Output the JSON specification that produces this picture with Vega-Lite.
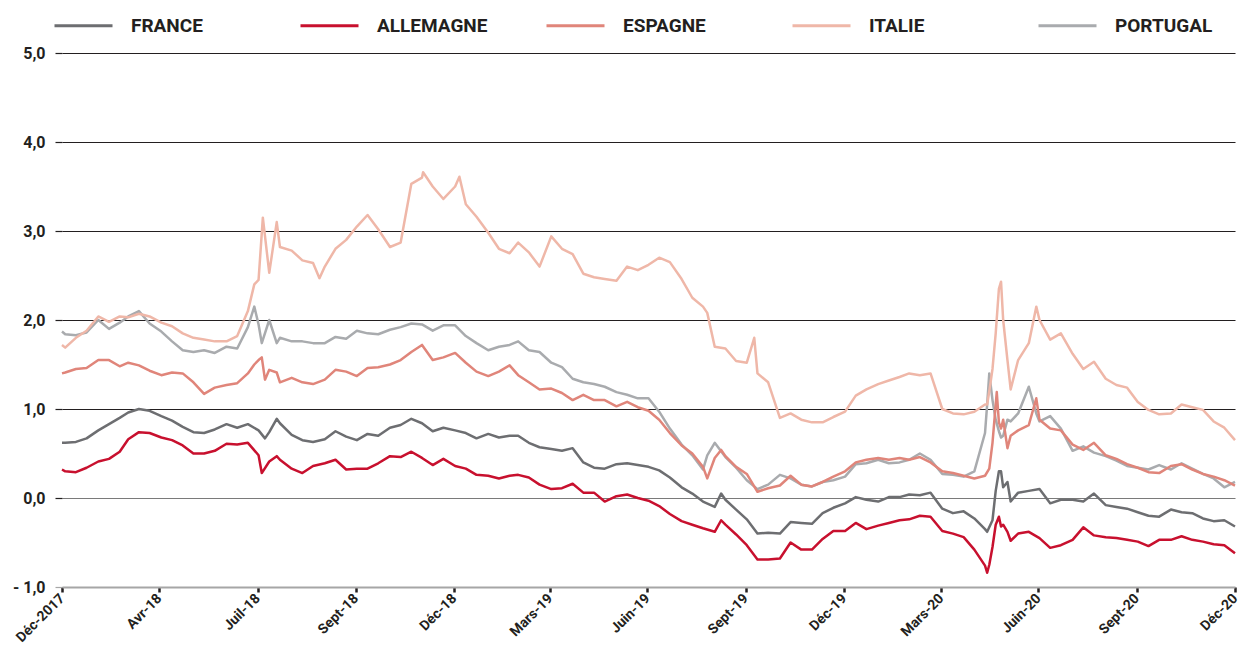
{
"$schema": "https://vega.github.io/schema/vega-lite/v6.json",
"width": 1173, "height": 534,
"autosize": {"type": "none"},
"padding": {"left": 62, "top": 53, "right": 7, "bottom": 58},
"background": "white",
"config": {"view": {"stroke": null}, "font": "'Liberation Sans Narrow', 'Arial Narrow', Roboto, sans-serif"},
"data": {"values": [
{"c":"PORTUGAL","d":"2017-12-29","v":1.87},{"c":"PORTUGAL","d":"2018-01-01","v":1.84},{"c":"PORTUGAL","d":"2018-01-11","v":1.83},{"c":"PORTUGAL","d":"2018-01-21","v":1.86},{"c":"PORTUGAL","d":"2018-02-01","v":2.00},{"c":"PORTUGAL","d":"2018-02-11","v":1.90},{"c":"PORTUGAL","d":"2018-02-21","v":1.97},{"c":"PORTUGAL","d":"2018-03-01","v":2.04},{"c":"PORTUGAL","d":"2018-03-11","v":2.10},{"c":"PORTUGAL","d":"2018-03-21","v":1.96},{"c":"PORTUGAL","d":"2018-04-01","v":1.87},{"c":"PORTUGAL","d":"2018-04-11","v":1.76},{"c":"PORTUGAL","d":"2018-04-21","v":1.66},{"c":"PORTUGAL","d":"2018-05-01","v":1.64},{"c":"PORTUGAL","d":"2018-05-11","v":1.66},{"c":"PORTUGAL","d":"2018-05-21","v":1.63},{"c":"PORTUGAL","d":"2018-06-01","v":1.70},{"c":"PORTUGAL","d":"2018-06-11","v":1.68},{"c":"PORTUGAL","d":"2018-06-21","v":1.92},{"c":"PORTUGAL","d":"2018-06-27","v":2.15},{"c":"PORTUGAL","d":"2018-07-01","v":1.95},{"c":"PORTUGAL","d":"2018-07-04","v":1.74},{"c":"PORTUGAL","d":"2018-07-11","v":2.00},{"c":"PORTUGAL","d":"2018-07-18","v":1.74},{"c":"PORTUGAL","d":"2018-07-21","v":1.80},{"c":"PORTUGAL","d":"2018-08-01","v":1.76},{"c":"PORTUGAL","d":"2018-08-11","v":1.76},{"c":"PORTUGAL","d":"2018-08-21","v":1.74},{"c":"PORTUGAL","d":"2018-09-01","v":1.74},{"c":"PORTUGAL","d":"2018-09-11","v":1.81},{"c":"PORTUGAL","d":"2018-09-21","v":1.79},{"c":"PORTUGAL","d":"2018-10-01","v":1.88},{"c":"PORTUGAL","d":"2018-10-11","v":1.85},{"c":"PORTUGAL","d":"2018-10-21","v":1.84},{"c":"PORTUGAL","d":"2018-11-01","v":1.89},{"c":"PORTUGAL","d":"2018-11-11","v":1.92},{"c":"PORTUGAL","d":"2018-11-21","v":1.96},{"c":"PORTUGAL","d":"2018-12-01","v":1.95},{"c":"PORTUGAL","d":"2018-12-11","v":1.88},{"c":"PORTUGAL","d":"2018-12-21","v":1.94},{"c":"PORTUGAL","d":"2019-01-01","v":1.94},{"c":"PORTUGAL","d":"2019-01-11","v":1.82},{"c":"PORTUGAL","d":"2019-01-21","v":1.74},{"c":"PORTUGAL","d":"2019-02-01","v":1.66},{"c":"PORTUGAL","d":"2019-02-11","v":1.70},{"c":"PORTUGAL","d":"2019-02-21","v":1.72},{"c":"PORTUGAL","d":"2019-03-01","v":1.76},{"c":"PORTUGAL","d":"2019-03-11","v":1.66},{"c":"PORTUGAL","d":"2019-03-21","v":1.64},{"c":"PORTUGAL","d":"2019-04-01","v":1.52},{"c":"PORTUGAL","d":"2019-04-11","v":1.47},{"c":"PORTUGAL","d":"2019-04-21","v":1.34},{"c":"PORTUGAL","d":"2019-05-01","v":1.30},{"c":"PORTUGAL","d":"2019-05-11","v":1.28},{"c":"PORTUGAL","d":"2019-05-21","v":1.25},{"c":"PORTUGAL","d":"2019-06-01","v":1.19},{"c":"PORTUGAL","d":"2019-06-11","v":1.16},{"c":"PORTUGAL","d":"2019-06-21","v":1.12},{"c":"PORTUGAL","d":"2019-07-01","v":1.12},{"c":"PORTUGAL","d":"2019-07-11","v":0.97},{"c":"PORTUGAL","d":"2019-07-21","v":0.78},{"c":"PORTUGAL","d":"2019-08-01","v":0.60},{"c":"PORTUGAL","d":"2019-08-11","v":0.48},{"c":"PORTUGAL","d":"2019-08-21","v":0.32},{"c":"PORTUGAL","d":"2019-08-25","v":0.48},{"c":"PORTUGAL","d":"2019-09-01","v":0.62},{"c":"PORTUGAL","d":"2019-09-11","v":0.46},{"c":"PORTUGAL","d":"2019-09-21","v":0.34},{"c":"PORTUGAL","d":"2019-10-01","v":0.20},{"c":"PORTUGAL","d":"2019-10-11","v":0.10},{"c":"PORTUGAL","d":"2019-10-21","v":0.15},{"c":"PORTUGAL","d":"2019-11-01","v":0.26},{"c":"PORTUGAL","d":"2019-11-11","v":0.22},{"c":"PORTUGAL","d":"2019-11-21","v":0.15},{"c":"PORTUGAL","d":"2019-12-01","v":0.13},{"c":"PORTUGAL","d":"2019-12-11","v":0.18},{"c":"PORTUGAL","d":"2019-12-21","v":0.20},{"c":"PORTUGAL","d":"2020-01-01","v":0.24},{"c":"PORTUGAL","d":"2020-01-11","v":0.38},{"c":"PORTUGAL","d":"2020-01-21","v":0.39},{"c":"PORTUGAL","d":"2020-02-01","v":0.43},{"c":"PORTUGAL","d":"2020-02-11","v":0.39},{"c":"PORTUGAL","d":"2020-02-21","v":0.40},{"c":"PORTUGAL","d":"2020-03-01","v":0.43},{"c":"PORTUGAL","d":"2020-03-11","v":0.50},{"c":"PORTUGAL","d":"2020-03-21","v":0.43},{"c":"PORTUGAL","d":"2020-04-01","v":0.27},{"c":"PORTUGAL","d":"2020-04-11","v":0.26},{"c":"PORTUGAL","d":"2020-04-21","v":0.24},{"c":"PORTUGAL","d":"2020-05-01","v":0.30},{"c":"PORTUGAL","d":"2020-05-11","v":0.73},{"c":"PORTUGAL","d":"2020-05-13","v":1.05},{"c":"PORTUGAL","d":"2020-05-15","v":1.40},{"c":"PORTUGAL","d":"2020-05-18","v":1.10},{"c":"PORTUGAL","d":"2020-05-21","v":0.88},{"c":"PORTUGAL","d":"2020-05-24","v":0.75},{"c":"PORTUGAL","d":"2020-05-26","v":0.68},{"c":"PORTUGAL","d":"2020-05-28","v":0.70},{"c":"PORTUGAL","d":"2020-06-01","v":0.88},{"c":"PORTUGAL","d":"2020-06-04","v":0.86},{"c":"PORTUGAL","d":"2020-06-11","v":0.95},{"c":"PORTUGAL","d":"2020-06-21","v":1.25},{"c":"PORTUGAL","d":"2020-06-28","v":0.95},{"c":"PORTUGAL","d":"2020-07-01","v":0.86},{"c":"PORTUGAL","d":"2020-07-11","v":0.92},{"c":"PORTUGAL","d":"2020-07-21","v":0.78},{"c":"PORTUGAL","d":"2020-08-01","v":0.53},{"c":"PORTUGAL","d":"2020-08-11","v":0.58},{"c":"PORTUGAL","d":"2020-08-21","v":0.51},{"c":"PORTUGAL","d":"2020-09-01","v":0.47},{"c":"PORTUGAL","d":"2020-09-11","v":0.42},{"c":"PORTUGAL","d":"2020-09-21","v":0.36},{"c":"PORTUGAL","d":"2020-10-01","v":0.34},{"c":"PORTUGAL","d":"2020-10-11","v":0.32},{"c":"PORTUGAL","d":"2020-10-21","v":0.37},{"c":"PORTUGAL","d":"2020-11-01","v":0.32},{"c":"PORTUGAL","d":"2020-11-11","v":0.39},{"c":"PORTUGAL","d":"2020-11-21","v":0.33},{"c":"PORTUGAL","d":"2020-12-01","v":0.27},{"c":"PORTUGAL","d":"2020-12-11","v":0.22},{"c":"PORTUGAL","d":"2020-12-21","v":0.12},{"c":"PORTUGAL","d":"2020-12-31","v":0.18},
{"c":"ITALIE","d":"2017-12-29","v":1.72},{"c":"ITALIE","d":"2018-01-01","v":1.69},{"c":"ITALIE","d":"2018-01-11","v":1.80},{"c":"ITALIE","d":"2018-01-21","v":1.88},{"c":"ITALIE","d":"2018-02-01","v":2.04},{"c":"ITALIE","d":"2018-02-11","v":1.98},{"c":"ITALIE","d":"2018-02-21","v":2.04},{"c":"ITALIE","d":"2018-03-01","v":2.03},{"c":"ITALIE","d":"2018-03-11","v":2.07},{"c":"ITALIE","d":"2018-03-21","v":2.04},{"c":"ITALIE","d":"2018-04-01","v":1.97},{"c":"ITALIE","d":"2018-04-11","v":1.93},{"c":"ITALIE","d":"2018-04-21","v":1.85},{"c":"ITALIE","d":"2018-05-01","v":1.80},{"c":"ITALIE","d":"2018-05-11","v":1.78},{"c":"ITALIE","d":"2018-05-21","v":1.76},{"c":"ITALIE","d":"2018-06-01","v":1.76},{"c":"ITALIE","d":"2018-06-11","v":1.82},{"c":"ITALIE","d":"2018-06-21","v":2.10},{"c":"ITALIE","d":"2018-06-27","v":2.40},{"c":"ITALIE","d":"2018-07-01","v":2.45},{"c":"ITALIE","d":"2018-07-05","v":3.15},{"c":"ITALIE","d":"2018-07-11","v":2.53},{"c":"ITALIE","d":"2018-07-18","v":3.10},{"c":"ITALIE","d":"2018-07-21","v":2.82},{"c":"ITALIE","d":"2018-08-01","v":2.78},{"c":"ITALIE","d":"2018-08-11","v":2.67},{"c":"ITALIE","d":"2018-08-21","v":2.64},{"c":"ITALIE","d":"2018-08-27","v":2.47},{"c":"ITALIE","d":"2018-09-01","v":2.60},{"c":"ITALIE","d":"2018-09-11","v":2.80},{"c":"ITALIE","d":"2018-09-21","v":2.90},{"c":"ITALIE","d":"2018-10-01","v":3.05},{"c":"ITALIE","d":"2018-10-11","v":3.18},{"c":"ITALIE","d":"2018-10-21","v":3.02},{"c":"ITALIE","d":"2018-11-01","v":2.82},{"c":"ITALIE","d":"2018-11-11","v":2.87},{"c":"ITALIE","d":"2018-11-21","v":3.53},{"c":"ITALIE","d":"2018-12-01","v":3.60},{"c":"ITALIE","d":"2018-12-02","v":3.66},{"c":"ITALIE","d":"2018-12-11","v":3.50},{"c":"ITALIE","d":"2018-12-21","v":3.36},{"c":"ITALIE","d":"2019-01-01","v":3.50},{"c":"ITALIE","d":"2019-01-05","v":3.61},{"c":"ITALIE","d":"2019-01-11","v":3.30},{"c":"ITALIE","d":"2019-01-21","v":3.16},{"c":"ITALIE","d":"2019-02-01","v":2.98},{"c":"ITALIE","d":"2019-02-11","v":2.80},{"c":"ITALIE","d":"2019-02-21","v":2.75},{"c":"ITALIE","d":"2019-03-01","v":2.87},{"c":"ITALIE","d":"2019-03-11","v":2.76},{"c":"ITALIE","d":"2019-03-21","v":2.60},{"c":"ITALIE","d":"2019-04-01","v":2.94},{"c":"ITALIE","d":"2019-04-11","v":2.80},{"c":"ITALIE","d":"2019-04-21","v":2.74},{"c":"ITALIE","d":"2019-05-01","v":2.52},{"c":"ITALIE","d":"2019-05-11","v":2.48},{"c":"ITALIE","d":"2019-05-21","v":2.46},{"c":"ITALIE","d":"2019-06-01","v":2.44},{"c":"ITALIE","d":"2019-06-11","v":2.60},{"c":"ITALIE","d":"2019-06-21","v":2.56},{"c":"ITALIE","d":"2019-07-01","v":2.62},{"c":"ITALIE","d":"2019-07-11","v":2.70},{"c":"ITALIE","d":"2019-07-21","v":2.65},{"c":"ITALIE","d":"2019-08-01","v":2.46},{"c":"ITALIE","d":"2019-08-11","v":2.25},{"c":"ITALIE","d":"2019-08-21","v":2.15},{"c":"ITALIE","d":"2019-08-25","v":2.08},{"c":"ITALIE","d":"2019-09-01","v":1.70},{"c":"ITALIE","d":"2019-09-11","v":1.68},{"c":"ITALIE","d":"2019-09-21","v":1.54},{"c":"ITALIE","d":"2019-10-01","v":1.52},{"c":"ITALIE","d":"2019-10-08","v":1.80},{"c":"ITALIE","d":"2019-10-11","v":1.40},{"c":"ITALIE","d":"2019-10-21","v":1.30},{"c":"ITALIE","d":"2019-11-01","v":0.90},{"c":"ITALIE","d":"2019-11-11","v":0.95},{"c":"ITALIE","d":"2019-11-21","v":0.88},{"c":"ITALIE","d":"2019-12-01","v":0.85},{"c":"ITALIE","d":"2019-12-11","v":0.85},{"c":"ITALIE","d":"2019-12-21","v":0.91},{"c":"ITALIE","d":"2020-01-01","v":0.97},{"c":"ITALIE","d":"2020-01-11","v":1.15},{"c":"ITALIE","d":"2020-01-21","v":1.22},{"c":"ITALIE","d":"2020-02-01","v":1.28},{"c":"ITALIE","d":"2020-02-11","v":1.32},{"c":"ITALIE","d":"2020-02-21","v":1.36},{"c":"ITALIE","d":"2020-03-01","v":1.40},{"c":"ITALIE","d":"2020-03-11","v":1.38},{"c":"ITALIE","d":"2020-03-21","v":1.40},{"c":"ITALIE","d":"2020-04-01","v":1.00},{"c":"ITALIE","d":"2020-04-11","v":0.95},{"c":"ITALIE","d":"2020-04-21","v":0.94},{"c":"ITALIE","d":"2020-05-01","v":0.97},{"c":"ITALIE","d":"2020-05-11","v":1.05},{"c":"ITALIE","d":"2020-05-13","v":1.05},{"c":"ITALIE","d":"2020-05-15","v":1.20},{"c":"ITALIE","d":"2020-05-18","v":1.45},{"c":"ITALIE","d":"2020-05-21","v":1.85},{"c":"ITALIE","d":"2020-05-24","v":2.35},{"c":"ITALIE","d":"2020-05-26","v":2.43},{"c":"ITALIE","d":"2020-05-28","v":2.00},{"c":"ITALIE","d":"2020-06-01","v":1.55},{"c":"ITALIE","d":"2020-06-04","v":1.22},{"c":"ITALIE","d":"2020-06-11","v":1.55},{"c":"ITALIE","d":"2020-06-21","v":1.74},{"c":"ITALIE","d":"2020-06-28","v":2.15},{"c":"ITALIE","d":"2020-07-01","v":2.00},{"c":"ITALIE","d":"2020-07-11","v":1.78},{"c":"ITALIE","d":"2020-07-21","v":1.85},{"c":"ITALIE","d":"2020-08-01","v":1.62},{"c":"ITALIE","d":"2020-08-11","v":1.45},{"c":"ITALIE","d":"2020-08-21","v":1.53},{"c":"ITALIE","d":"2020-09-01","v":1.34},{"c":"ITALIE","d":"2020-09-11","v":1.27},{"c":"ITALIE","d":"2020-09-21","v":1.24},{"c":"ITALIE","d":"2020-10-01","v":1.08},{"c":"ITALIE","d":"2020-10-11","v":0.99},{"c":"ITALIE","d":"2020-10-21","v":0.94},{"c":"ITALIE","d":"2020-11-01","v":0.95},{"c":"ITALIE","d":"2020-11-11","v":1.05},{"c":"ITALIE","d":"2020-11-21","v":1.02},{"c":"ITALIE","d":"2020-12-01","v":0.99},{"c":"ITALIE","d":"2020-12-11","v":0.86},{"c":"ITALIE","d":"2020-12-21","v":0.79},{"c":"ITALIE","d":"2020-12-31","v":0.65},
{"c":"ESPAGNE","d":"2017-12-29","v":1.40},{"c":"ESPAGNE","d":"2018-01-01","v":1.41},{"c":"ESPAGNE","d":"2018-01-11","v":1.45},{"c":"ESPAGNE","d":"2018-01-21","v":1.46},{"c":"ESPAGNE","d":"2018-02-01","v":1.55},{"c":"ESPAGNE","d":"2018-02-11","v":1.55},{"c":"ESPAGNE","d":"2018-02-21","v":1.48},{"c":"ESPAGNE","d":"2018-03-01","v":1.52},{"c":"ESPAGNE","d":"2018-03-11","v":1.49},{"c":"ESPAGNE","d":"2018-03-21","v":1.43},{"c":"ESPAGNE","d":"2018-04-01","v":1.38},{"c":"ESPAGNE","d":"2018-04-11","v":1.41},{"c":"ESPAGNE","d":"2018-04-21","v":1.40},{"c":"ESPAGNE","d":"2018-05-01","v":1.30},{"c":"ESPAGNE","d":"2018-05-11","v":1.17},{"c":"ESPAGNE","d":"2018-05-21","v":1.24},{"c":"ESPAGNE","d":"2018-06-01","v":1.27},{"c":"ESPAGNE","d":"2018-06-11","v":1.29},{"c":"ESPAGNE","d":"2018-06-21","v":1.40},{"c":"ESPAGNE","d":"2018-06-27","v":1.50},{"c":"ESPAGNE","d":"2018-07-01","v":1.55},{"c":"ESPAGNE","d":"2018-07-04","v":1.58},{"c":"ESPAGNE","d":"2018-07-07","v":1.33},{"c":"ESPAGNE","d":"2018-07-11","v":1.44},{"c":"ESPAGNE","d":"2018-07-18","v":1.41},{"c":"ESPAGNE","d":"2018-07-21","v":1.30},{"c":"ESPAGNE","d":"2018-08-01","v":1.35},{"c":"ESPAGNE","d":"2018-08-11","v":1.30},{"c":"ESPAGNE","d":"2018-08-21","v":1.28},{"c":"ESPAGNE","d":"2018-09-01","v":1.33},{"c":"ESPAGNE","d":"2018-09-11","v":1.44},{"c":"ESPAGNE","d":"2018-09-21","v":1.42},{"c":"ESPAGNE","d":"2018-10-01","v":1.37},{"c":"ESPAGNE","d":"2018-10-11","v":1.46},{"c":"ESPAGNE","d":"2018-10-21","v":1.47},{"c":"ESPAGNE","d":"2018-11-01","v":1.50},{"c":"ESPAGNE","d":"2018-11-11","v":1.55},{"c":"ESPAGNE","d":"2018-11-21","v":1.64},{"c":"ESPAGNE","d":"2018-12-01","v":1.72},{"c":"ESPAGNE","d":"2018-12-11","v":1.55},{"c":"ESPAGNE","d":"2018-12-21","v":1.58},{"c":"ESPAGNE","d":"2019-01-01","v":1.63},{"c":"ESPAGNE","d":"2019-01-11","v":1.52},{"c":"ESPAGNE","d":"2019-01-21","v":1.42},{"c":"ESPAGNE","d":"2019-02-01","v":1.37},{"c":"ESPAGNE","d":"2019-02-11","v":1.42},{"c":"ESPAGNE","d":"2019-02-21","v":1.49},{"c":"ESPAGNE","d":"2019-03-01","v":1.38},{"c":"ESPAGNE","d":"2019-03-11","v":1.30},{"c":"ESPAGNE","d":"2019-03-21","v":1.22},{"c":"ESPAGNE","d":"2019-04-01","v":1.23},{"c":"ESPAGNE","d":"2019-04-11","v":1.18},{"c":"ESPAGNE","d":"2019-04-21","v":1.10},{"c":"ESPAGNE","d":"2019-05-01","v":1.16},{"c":"ESPAGNE","d":"2019-05-11","v":1.10},{"c":"ESPAGNE","d":"2019-05-21","v":1.10},{"c":"ESPAGNE","d":"2019-06-01","v":1.03},{"c":"ESPAGNE","d":"2019-06-11","v":1.08},{"c":"ESPAGNE","d":"2019-06-21","v":1.02},{"c":"ESPAGNE","d":"2019-07-01","v":0.98},{"c":"ESPAGNE","d":"2019-07-11","v":0.88},{"c":"ESPAGNE","d":"2019-07-21","v":0.73},{"c":"ESPAGNE","d":"2019-08-01","v":0.59},{"c":"ESPAGNE","d":"2019-08-11","v":0.50},{"c":"ESPAGNE","d":"2019-08-21","v":0.35},{"c":"ESPAGNE","d":"2019-08-25","v":0.22},{"c":"ESPAGNE","d":"2019-09-01","v":0.45},{"c":"ESPAGNE","d":"2019-09-07","v":0.54},{"c":"ESPAGNE","d":"2019-09-11","v":0.47},{"c":"ESPAGNE","d":"2019-09-21","v":0.35},{"c":"ESPAGNE","d":"2019-10-01","v":0.27},{"c":"ESPAGNE","d":"2019-10-11","v":0.07},{"c":"ESPAGNE","d":"2019-10-21","v":0.11},{"c":"ESPAGNE","d":"2019-11-01","v":0.14},{"c":"ESPAGNE","d":"2019-11-11","v":0.25},{"c":"ESPAGNE","d":"2019-11-21","v":0.15},{"c":"ESPAGNE","d":"2019-12-01","v":0.13},{"c":"ESPAGNE","d":"2019-12-11","v":0.18},{"c":"ESPAGNE","d":"2019-12-21","v":0.24},{"c":"ESPAGNE","d":"2020-01-01","v":0.30},{"c":"ESPAGNE","d":"2020-01-11","v":0.40},{"c":"ESPAGNE","d":"2020-01-21","v":0.43},{"c":"ESPAGNE","d":"2020-02-01","v":0.45},{"c":"ESPAGNE","d":"2020-02-11","v":0.43},{"c":"ESPAGNE","d":"2020-02-21","v":0.45},{"c":"ESPAGNE","d":"2020-03-01","v":0.43},{"c":"ESPAGNE","d":"2020-03-11","v":0.46},{"c":"ESPAGNE","d":"2020-03-21","v":0.40},{"c":"ESPAGNE","d":"2020-04-01","v":0.30},{"c":"ESPAGNE","d":"2020-04-11","v":0.28},{"c":"ESPAGNE","d":"2020-04-21","v":0.25},{"c":"ESPAGNE","d":"2020-05-01","v":0.22},{"c":"ESPAGNE","d":"2020-05-11","v":0.25},{"c":"ESPAGNE","d":"2020-05-15","v":0.33},{"c":"ESPAGNE","d":"2020-05-18","v":0.62},{"c":"ESPAGNE","d":"2020-05-22","v":1.19},{"c":"ESPAGNE","d":"2020-05-24","v":0.85},{"c":"ESPAGNE","d":"2020-05-26","v":0.78},{"c":"ESPAGNE","d":"2020-05-28","v":0.88},{"c":"ESPAGNE","d":"2020-06-01","v":0.56},{"c":"ESPAGNE","d":"2020-06-04","v":0.70},{"c":"ESPAGNE","d":"2020-06-11","v":0.76},{"c":"ESPAGNE","d":"2020-06-21","v":0.82},{"c":"ESPAGNE","d":"2020-06-28","v":1.12},{"c":"ESPAGNE","d":"2020-07-01","v":0.88},{"c":"ESPAGNE","d":"2020-07-11","v":0.78},{"c":"ESPAGNE","d":"2020-07-21","v":0.76},{"c":"ESPAGNE","d":"2020-08-01","v":0.60},{"c":"ESPAGNE","d":"2020-08-11","v":0.54},{"c":"ESPAGNE","d":"2020-08-21","v":0.62},{"c":"ESPAGNE","d":"2020-09-01","v":0.48},{"c":"ESPAGNE","d":"2020-09-11","v":0.44},{"c":"ESPAGNE","d":"2020-09-21","v":0.38},{"c":"ESPAGNE","d":"2020-10-01","v":0.34},{"c":"ESPAGNE","d":"2020-10-11","v":0.29},{"c":"ESPAGNE","d":"2020-10-21","v":0.28},{"c":"ESPAGNE","d":"2020-11-01","v":0.36},{"c":"ESPAGNE","d":"2020-11-11","v":0.38},{"c":"ESPAGNE","d":"2020-11-21","v":0.32},{"c":"ESPAGNE","d":"2020-12-01","v":0.27},{"c":"ESPAGNE","d":"2020-12-11","v":0.24},{"c":"ESPAGNE","d":"2020-12-21","v":0.20},{"c":"ESPAGNE","d":"2020-12-31","v":0.14},
{"c":"FRANCE","d":"2017-12-29","v":0.62},{"c":"FRANCE","d":"2018-01-01","v":0.62},{"c":"FRANCE","d":"2018-01-11","v":0.63},{"c":"FRANCE","d":"2018-01-21","v":0.67},{"c":"FRANCE","d":"2018-02-01","v":0.76},{"c":"FRANCE","d":"2018-02-11","v":0.83},{"c":"FRANCE","d":"2018-02-21","v":0.90},{"c":"FRANCE","d":"2018-03-01","v":0.96},{"c":"FRANCE","d":"2018-03-11","v":1.00},{"c":"FRANCE","d":"2018-03-21","v":0.98},{"c":"FRANCE","d":"2018-04-01","v":0.92},{"c":"FRANCE","d":"2018-04-11","v":0.87},{"c":"FRANCE","d":"2018-04-21","v":0.80},{"c":"FRANCE","d":"2018-05-01","v":0.74},{"c":"FRANCE","d":"2018-05-11","v":0.73},{"c":"FRANCE","d":"2018-05-21","v":0.77},{"c":"FRANCE","d":"2018-06-01","v":0.83},{"c":"FRANCE","d":"2018-06-11","v":0.79},{"c":"FRANCE","d":"2018-06-21","v":0.83},{"c":"FRANCE","d":"2018-07-01","v":0.76},{"c":"FRANCE","d":"2018-07-07","v":0.67},{"c":"FRANCE","d":"2018-07-11","v":0.74},{"c":"FRANCE","d":"2018-07-18","v":0.89},{"c":"FRANCE","d":"2018-07-21","v":0.84},{"c":"FRANCE","d":"2018-08-01","v":0.71},{"c":"FRANCE","d":"2018-08-11","v":0.65},{"c":"FRANCE","d":"2018-08-21","v":0.63},{"c":"FRANCE","d":"2018-09-01","v":0.66},{"c":"FRANCE","d":"2018-09-11","v":0.75},{"c":"FRANCE","d":"2018-09-21","v":0.69},{"c":"FRANCE","d":"2018-10-01","v":0.65},{"c":"FRANCE","d":"2018-10-11","v":0.72},{"c":"FRANCE","d":"2018-10-21","v":0.70},{"c":"FRANCE","d":"2018-11-01","v":0.79},{"c":"FRANCE","d":"2018-11-11","v":0.82},{"c":"FRANCE","d":"2018-11-21","v":0.89},{"c":"FRANCE","d":"2018-12-01","v":0.84},{"c":"FRANCE","d":"2018-12-11","v":0.75},{"c":"FRANCE","d":"2018-12-21","v":0.79},{"c":"FRANCE","d":"2019-01-01","v":0.76},{"c":"FRANCE","d":"2019-01-11","v":0.73},{"c":"FRANCE","d":"2019-01-21","v":0.67},{"c":"FRANCE","d":"2019-02-01","v":0.72},{"c":"FRANCE","d":"2019-02-11","v":0.68},{"c":"FRANCE","d":"2019-02-21","v":0.70},{"c":"FRANCE","d":"2019-03-01","v":0.70},{"c":"FRANCE","d":"2019-03-11","v":0.62},{"c":"FRANCE","d":"2019-03-21","v":0.57},{"c":"FRANCE","d":"2019-04-01","v":0.55},{"c":"FRANCE","d":"2019-04-11","v":0.53},{"c":"FRANCE","d":"2019-04-21","v":0.56},{"c":"FRANCE","d":"2019-05-01","v":0.40},{"c":"FRANCE","d":"2019-05-11","v":0.34},{"c":"FRANCE","d":"2019-05-21","v":0.33},{"c":"FRANCE","d":"2019-06-01","v":0.38},{"c":"FRANCE","d":"2019-06-11","v":0.39},{"c":"FRANCE","d":"2019-06-21","v":0.37},{"c":"FRANCE","d":"2019-07-01","v":0.35},{"c":"FRANCE","d":"2019-07-11","v":0.31},{"c":"FRANCE","d":"2019-07-21","v":0.23},{"c":"FRANCE","d":"2019-08-01","v":0.12},{"c":"FRANCE","d":"2019-08-11","v":0.05},{"c":"FRANCE","d":"2019-08-21","v":-0.04},{"c":"FRANCE","d":"2019-09-01","v":-0.10},{"c":"FRANCE","d":"2019-09-07","v":0.05},{"c":"FRANCE","d":"2019-09-11","v":-0.02},{"c":"FRANCE","d":"2019-09-21","v":-0.13},{"c":"FRANCE","d":"2019-10-01","v":-0.24},{"c":"FRANCE","d":"2019-10-11","v":-0.40},{"c":"FRANCE","d":"2019-10-21","v":-0.39},{"c":"FRANCE","d":"2019-11-01","v":-0.40},{"c":"FRANCE","d":"2019-11-11","v":-0.27},{"c":"FRANCE","d":"2019-11-21","v":-0.28},{"c":"FRANCE","d":"2019-12-01","v":-0.29},{"c":"FRANCE","d":"2019-12-11","v":-0.17},{"c":"FRANCE","d":"2019-12-21","v":-0.11},{"c":"FRANCE","d":"2020-01-01","v":-0.06},{"c":"FRANCE","d":"2020-01-11","v":0.01},{"c":"FRANCE","d":"2020-01-21","v":-0.02},{"c":"FRANCE","d":"2020-02-01","v":-0.04},{"c":"FRANCE","d":"2020-02-11","v":0.01},{"c":"FRANCE","d":"2020-02-21","v":0.01},{"c":"FRANCE","d":"2020-03-01","v":0.04},{"c":"FRANCE","d":"2020-03-11","v":0.03},{"c":"FRANCE","d":"2020-03-21","v":0.06},{"c":"FRANCE","d":"2020-04-01","v":-0.12},{"c":"FRANCE","d":"2020-04-11","v":-0.17},{"c":"FRANCE","d":"2020-04-21","v":-0.15},{"c":"FRANCE","d":"2020-05-01","v":-0.23},{"c":"FRANCE","d":"2020-05-11","v":-0.35},{"c":"FRANCE","d":"2020-05-13","v":-0.38},{"c":"FRANCE","d":"2020-05-18","v":-0.25},{"c":"FRANCE","d":"2020-05-21","v":0.08},{"c":"FRANCE","d":"2020-05-24","v":0.30},{"c":"FRANCE","d":"2020-05-26","v":0.30},{"c":"FRANCE","d":"2020-05-28","v":0.12},{"c":"FRANCE","d":"2020-06-01","v":0.18},{"c":"FRANCE","d":"2020-06-04","v":-0.04},{"c":"FRANCE","d":"2020-06-11","v":0.06},{"c":"FRANCE","d":"2020-06-21","v":0.08},{"c":"FRANCE","d":"2020-07-01","v":0.10},{"c":"FRANCE","d":"2020-07-11","v":-0.06},{"c":"FRANCE","d":"2020-07-21","v":-0.02},{"c":"FRANCE","d":"2020-08-01","v":-0.02},{"c":"FRANCE","d":"2020-08-11","v":-0.04},{"c":"FRANCE","d":"2020-08-21","v":0.05},{"c":"FRANCE","d":"2020-09-01","v":-0.08},{"c":"FRANCE","d":"2020-09-11","v":-0.10},{"c":"FRANCE","d":"2020-09-21","v":-0.12},{"c":"FRANCE","d":"2020-10-01","v":-0.16},{"c":"FRANCE","d":"2020-10-11","v":-0.20},{"c":"FRANCE","d":"2020-10-21","v":-0.21},{"c":"FRANCE","d":"2020-11-01","v":-0.13},{"c":"FRANCE","d":"2020-11-11","v":-0.16},{"c":"FRANCE","d":"2020-11-21","v":-0.17},{"c":"FRANCE","d":"2020-12-01","v":-0.23},{"c":"FRANCE","d":"2020-12-11","v":-0.26},{"c":"FRANCE","d":"2020-12-21","v":-0.25},{"c":"FRANCE","d":"2020-12-31","v":-0.32},
{"c":"ALLEMAGNE","d":"2017-12-29","v":0.32},{"c":"ALLEMAGNE","d":"2018-01-01","v":0.30},{"c":"ALLEMAGNE","d":"2018-01-11","v":0.29},{"c":"ALLEMAGNE","d":"2018-01-21","v":0.34},{"c":"ALLEMAGNE","d":"2018-02-01","v":0.41},{"c":"ALLEMAGNE","d":"2018-02-11","v":0.44},{"c":"ALLEMAGNE","d":"2018-02-21","v":0.52},{"c":"ALLEMAGNE","d":"2018-03-01","v":0.66},{"c":"ALLEMAGNE","d":"2018-03-11","v":0.74},{"c":"ALLEMAGNE","d":"2018-03-21","v":0.73},{"c":"ALLEMAGNE","d":"2018-04-01","v":0.68},{"c":"ALLEMAGNE","d":"2018-04-11","v":0.65},{"c":"ALLEMAGNE","d":"2018-04-21","v":0.59},{"c":"ALLEMAGNE","d":"2018-05-01","v":0.50},{"c":"ALLEMAGNE","d":"2018-05-11","v":0.50},{"c":"ALLEMAGNE","d":"2018-05-21","v":0.53},{"c":"ALLEMAGNE","d":"2018-06-01","v":0.61},{"c":"ALLEMAGNE","d":"2018-06-11","v":0.60},{"c":"ALLEMAGNE","d":"2018-06-21","v":0.62},{"c":"ALLEMAGNE","d":"2018-07-01","v":0.48},{"c":"ALLEMAGNE","d":"2018-07-04","v":0.28},{"c":"ALLEMAGNE","d":"2018-07-11","v":0.41},{"c":"ALLEMAGNE","d":"2018-07-18","v":0.47},{"c":"ALLEMAGNE","d":"2018-07-21","v":0.43},{"c":"ALLEMAGNE","d":"2018-08-01","v":0.33},{"c":"ALLEMAGNE","d":"2018-08-11","v":0.28},{"c":"ALLEMAGNE","d":"2018-08-21","v":0.36},{"c":"ALLEMAGNE","d":"2018-09-01","v":0.39},{"c":"ALLEMAGNE","d":"2018-09-11","v":0.43},{"c":"ALLEMAGNE","d":"2018-09-21","v":0.32},{"c":"ALLEMAGNE","d":"2018-10-01","v":0.33},{"c":"ALLEMAGNE","d":"2018-10-11","v":0.33},{"c":"ALLEMAGNE","d":"2018-10-21","v":0.39},{"c":"ALLEMAGNE","d":"2018-11-01","v":0.47},{"c":"ALLEMAGNE","d":"2018-11-11","v":0.46},{"c":"ALLEMAGNE","d":"2018-11-21","v":0.52},{"c":"ALLEMAGNE","d":"2018-12-01","v":0.45},{"c":"ALLEMAGNE","d":"2018-12-11","v":0.37},{"c":"ALLEMAGNE","d":"2018-12-21","v":0.44},{"c":"ALLEMAGNE","d":"2019-01-01","v":0.36},{"c":"ALLEMAGNE","d":"2019-01-11","v":0.33},{"c":"ALLEMAGNE","d":"2019-01-21","v":0.26},{"c":"ALLEMAGNE","d":"2019-02-01","v":0.25},{"c":"ALLEMAGNE","d":"2019-02-11","v":0.22},{"c":"ALLEMAGNE","d":"2019-02-21","v":0.25},{"c":"ALLEMAGNE","d":"2019-03-01","v":0.26},{"c":"ALLEMAGNE","d":"2019-03-11","v":0.23},{"c":"ALLEMAGNE","d":"2019-03-21","v":0.15},{"c":"ALLEMAGNE","d":"2019-04-01","v":0.10},{"c":"ALLEMAGNE","d":"2019-04-11","v":0.11},{"c":"ALLEMAGNE","d":"2019-04-21","v":0.16},{"c":"ALLEMAGNE","d":"2019-05-01","v":0.06},{"c":"ALLEMAGNE","d":"2019-05-11","v":0.06},{"c":"ALLEMAGNE","d":"2019-05-21","v":-0.04},{"c":"ALLEMAGNE","d":"2019-06-01","v":0.02},{"c":"ALLEMAGNE","d":"2019-06-11","v":0.04},{"c":"ALLEMAGNE","d":"2019-06-21","v":0.00},{"c":"ALLEMAGNE","d":"2019-07-01","v":-0.03},{"c":"ALLEMAGNE","d":"2019-07-11","v":-0.09},{"c":"ALLEMAGNE","d":"2019-07-21","v":-0.18},{"c":"ALLEMAGNE","d":"2019-08-01","v":-0.26},{"c":"ALLEMAGNE","d":"2019-08-11","v":-0.30},{"c":"ALLEMAGNE","d":"2019-08-21","v":-0.34},{"c":"ALLEMAGNE","d":"2019-09-01","v":-0.38},{"c":"ALLEMAGNE","d":"2019-09-07","v":-0.25},{"c":"ALLEMAGNE","d":"2019-09-11","v":-0.30},{"c":"ALLEMAGNE","d":"2019-09-21","v":-0.41},{"c":"ALLEMAGNE","d":"2019-10-01","v":-0.53},{"c":"ALLEMAGNE","d":"2019-10-11","v":-0.69},{"c":"ALLEMAGNE","d":"2019-10-21","v":-0.69},{"c":"ALLEMAGNE","d":"2019-11-01","v":-0.68},{"c":"ALLEMAGNE","d":"2019-11-11","v":-0.50},{"c":"ALLEMAGNE","d":"2019-11-21","v":-0.58},{"c":"ALLEMAGNE","d":"2019-12-01","v":-0.58},{"c":"ALLEMAGNE","d":"2019-12-11","v":-0.46},{"c":"ALLEMAGNE","d":"2019-12-21","v":-0.37},{"c":"ALLEMAGNE","d":"2020-01-01","v":-0.37},{"c":"ALLEMAGNE","d":"2020-01-11","v":-0.28},{"c":"ALLEMAGNE","d":"2020-01-21","v":-0.35},{"c":"ALLEMAGNE","d":"2020-02-01","v":-0.31},{"c":"ALLEMAGNE","d":"2020-02-11","v":-0.28},{"c":"ALLEMAGNE","d":"2020-02-21","v":-0.25},{"c":"ALLEMAGNE","d":"2020-03-01","v":-0.24},{"c":"ALLEMAGNE","d":"2020-03-11","v":-0.20},{"c":"ALLEMAGNE","d":"2020-03-21","v":-0.21},{"c":"ALLEMAGNE","d":"2020-04-01","v":-0.37},{"c":"ALLEMAGNE","d":"2020-04-11","v":-0.40},{"c":"ALLEMAGNE","d":"2020-04-21","v":-0.44},{"c":"ALLEMAGNE","d":"2020-05-01","v":-0.58},{"c":"ALLEMAGNE","d":"2020-05-11","v":-0.76},{"c":"ALLEMAGNE","d":"2020-05-13","v":-0.84},{"c":"ALLEMAGNE","d":"2020-05-15","v":-0.75},{"c":"ALLEMAGNE","d":"2020-05-18","v":-0.55},{"c":"ALLEMAGNE","d":"2020-05-21","v":-0.30},{"c":"ALLEMAGNE","d":"2020-05-24","v":-0.21},{"c":"ALLEMAGNE","d":"2020-05-26","v":-0.32},{"c":"ALLEMAGNE","d":"2020-05-28","v":-0.30},{"c":"ALLEMAGNE","d":"2020-06-01","v":-0.38},{"c":"ALLEMAGNE","d":"2020-06-04","v":-0.48},{"c":"ALLEMAGNE","d":"2020-06-11","v":-0.40},{"c":"ALLEMAGNE","d":"2020-06-21","v":-0.38},{"c":"ALLEMAGNE","d":"2020-07-01","v":-0.45},{"c":"ALLEMAGNE","d":"2020-07-11","v":-0.56},{"c":"ALLEMAGNE","d":"2020-07-21","v":-0.53},{"c":"ALLEMAGNE","d":"2020-08-01","v":-0.47},{"c":"ALLEMAGNE","d":"2020-08-11","v":-0.33},{"c":"ALLEMAGNE","d":"2020-08-21","v":-0.42},{"c":"ALLEMAGNE","d":"2020-09-01","v":-0.44},{"c":"ALLEMAGNE","d":"2020-09-11","v":-0.45},{"c":"ALLEMAGNE","d":"2020-09-21","v":-0.47},{"c":"ALLEMAGNE","d":"2020-10-01","v":-0.49},{"c":"ALLEMAGNE","d":"2020-10-11","v":-0.54},{"c":"ALLEMAGNE","d":"2020-10-21","v":-0.47},{"c":"ALLEMAGNE","d":"2020-11-01","v":-0.47},{"c":"ALLEMAGNE","d":"2020-11-11","v":-0.43},{"c":"ALLEMAGNE","d":"2020-11-21","v":-0.47},{"c":"ALLEMAGNE","d":"2020-12-01","v":-0.49},{"c":"ALLEMAGNE","d":"2020-12-11","v":-0.52},{"c":"ALLEMAGNE","d":"2020-12-21","v":-0.53},{"c":"ALLEMAGNE","d":"2020-12-31","v":-0.62}
]},
"mark": {"type": "line", "strokeWidth": 2.5, "strokeJoin": "round"},
"encoding": {
"x": {"field": "d", "type": "temporal",
 "scale": {"domain": [{"year": 2017, "month": 12, "date": 29, "utc": true}, {"year": 2020, "month": 12, "date": 31, "utc": true}]},
 "axis": {"title": null, "grid": false,
  "values": [{"year":2017,"month":12,"date":29,"utc":true},{"year":2018,"month":3,"date":30,"utc":true},{"year":2018,"month":6,"date":30,"utc":true},{"year":2018,"month":9,"date":30,"utc":true},{"year":2018,"month":12,"date":31,"utc":true},{"year":2019,"month":3,"date":31,"utc":true},{"year":2019,"month":6,"date":30,"utc":true},{"year":2019,"month":9,"date":30,"utc":true},{"year":2019,"month":12,"date":31,"utc":true},{"year":2020,"month":3,"date":31,"utc":true},{"year":2020,"month":6,"date":30,"utc":true},{"year":2020,"month":9,"date":30,"utc":true},{"year":2020,"month":12,"date":31,"utc":true}],
  "labelExpr": "['Déc-2017','Avr-18','Juil-18','Sept-18','Déc-18','Mars-19','Juin-19','Sept-19','Déc-19','Mars-20','Juin-20','Sept-20','Déc-20'][round((datum.value - utc(2017,11,29)) / 86400000 / 91.5)]",
  "labelAngle": -45, "labelAlign": "right", "labelBaseline": "middle", "labelPadding": 4,
  "labelFontSize": 14, "labelFontWeight": "bold", "labelColor": "#231f20",
  "labelOverlap": false, "labelBound": false, "labelFlush": false,
  "domainColor": "#a6a6a6", "domainWidth": 2,
  "tickColor": "#231f20", "tickWidth": 2.5, "tickSize": 5}},
"y": {"field": "v", "type": "quantitative",
 "scale": {"domain": [-1, 5], "nice": false, "zero": false},
 "axis": {"title": null, "domain": false, "values": [-1, 0, 1, 2, 3, 4, 5],
  "labelExpr": "(datum.value < 0 ? '- ' : '') + replace(format(abs(datum.value), '.1f'), '.', ',')",
  "labelFontSize": 16, "labelFontWeight": "bold", "labelColor": "#231f20", "labelPadding": 10,
  "tickSize": 7, "tickWidth": 1.2,
  "tickColor": {"condition": {"test": "datum.value === -1", "value": "#a6a6a6"}, "value": "#231f20"},
  "grid": true, "gridWidth": 1.2,
  "gridColor": {"condition": [{"test": "datum.value === 0", "value": "#7a7a7a"}, {"test": "datum.value === -1", "value": "#a6a6a6"}], "value": "#231f20"}}},
"color": {"field": "c", "type": "nominal",
 "scale": {"domain": ["FRANCE", "ALLEMAGNE", "ESPAGNE", "ITALIE", "PORTUGAL"], "range": ["#6d6e71", "#c8102e", "#e0857a", "#efb7a8", "#a9abae"]},
 "legend": {"title": null, "orient": "none", "legendX": -9, "legendY": -58, "direction": "horizontal", "columns": 5, "gridAlign": "all", "columnPadding": 52, "padding": 0,
  "symbolType": "stroke", "symbolSize": 3364, "symbolStrokeWidth": 3, "labelOffset": 17,
  "labelFontSize": 19, "labelFontWeight": "bold", "labelColor": "#231f20", "labelLimit": 300}}
}
}
